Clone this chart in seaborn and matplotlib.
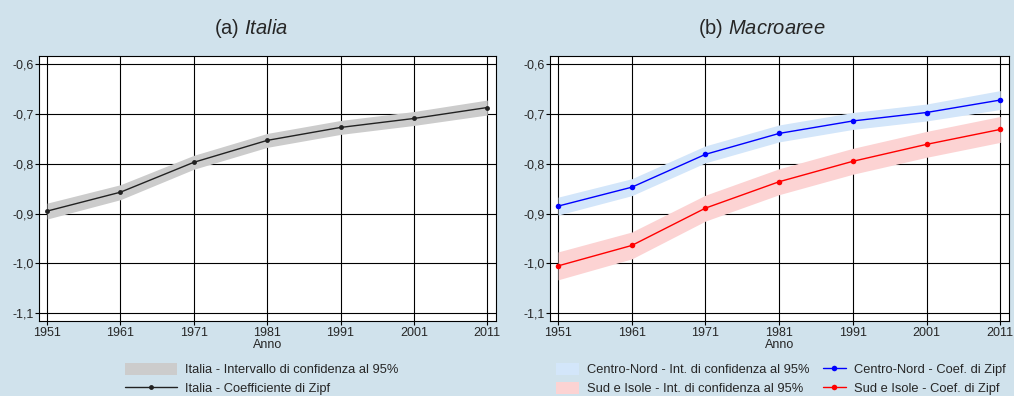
import numpy as np
import pandas as pd
import seaborn as sns
import matplotlib.pyplot as plt
from matplotlib.patches import Patch
from matplotlib.lines import Line2D

anni = [1951, 1961, 1971, 1981, 1991, 2001, 2011]

italia_coef = [-0.895, -0.857, -0.797, -0.753, -0.727, -0.709, -0.687]
italia_lo = [-0.911, -0.872, -0.811, -0.767, -0.741, -0.723, -0.702]
italia_hi = [-0.879, -0.842, -0.783, -0.739, -0.713, -0.695, -0.672]

cn_coef = [-0.885, -0.847, -0.781, -0.739, -0.714, -0.697, -0.672]
cn_lo = [-0.903, -0.864, -0.798, -0.756, -0.731, -0.714, -0.691]
cn_hi = [-0.867, -0.830, -0.764, -0.722, -0.697, -0.680, -0.653]

sud_coef = [-1.005, -0.964, -0.889, -0.836, -0.795, -0.761, -0.731]
sud_lo = [-1.033, -0.991, -0.915, -0.862, -0.821, -0.787, -0.757]
sud_hi = [-0.977, -0.937, -0.863, -0.810, -0.769, -0.735, -0.705]

yticks = [-1.1, -1.0, -0.9, -0.8, -0.7, -0.6]
ytick_labels = ["-1,1", "-1,0", "-0,9", "-0,8", "-0,7", "-0,6"]

sns.set_style("white")
plt.rcParams['font.family'] = ['Liberation Sans', 'DejaVu Sans']
plt.rcParams['mathtext.fontset'] = 'custom'
plt.rcParams['mathtext.rm'] = 'Liberation Sans'
plt.rcParams['mathtext.it'] = 'Liberation Sans:italic'

bg = '#D0E2EC'
fig = plt.figure(figsize=(10.14, 3.96), dpi=100, facecolor=bg)
ax1 = fig.add_axes([0.0385, 0.189, 0.4507, 0.669])
ax2 = fig.add_axes([0.5424, 0.189, 0.4527, 0.669])

df_it = pd.DataFrame({'Anno': anni, 'coef': italia_coef})
df_cn = pd.DataFrame({'Anno': anni, 'coef': cn_coef})
df_sud = pd.DataFrame({'Anno': anni, 'coef': sud_coef})

ax1.fill_between(anni, italia_lo, italia_hi, color='#CCCCCC', lw=0, zorder=2)
sns.lineplot(data=df_it, x='Anno', y='coef', ax=ax1, color='#222222', lw=1,
             marker='o', markersize=3.5, markeredgewidth=0, zorder=3)

ax2.fill_between(anni, cn_lo, cn_hi, color='#D3E6FA', lw=0, zorder=2)
ax2.fill_between(anni, sud_lo, sud_hi, color='#FCD3D3', lw=0, zorder=2)
sns.lineplot(data=df_cn, x='Anno', y='coef', ax=ax2, color='#0000FF', lw=1,
             marker='o', markersize=4, markeredgewidth=0, zorder=3)
sns.lineplot(data=df_sud, x='Anno', y='coef', ax=ax2, color='#FF0000', lw=1,
             marker='o', markersize=4, markeredgewidth=0, zorder=3)

for ax in (ax1, ax2):
    ax.set_facecolor('white')
    ax.set_xlim(1949.9, 2012.2)
    ax.set_ylim(-1.116, -0.584)
    ax.set_xticks(anni)
    ax.set_xticklabels([str(a) for a in anni])
    ax.set_yticks(yticks)
    ax.set_yticklabels(ytick_labels)
    ax.grid(True, color='black', lw=0.8, zorder=1)
    ax.set_axisbelow(True)
    ax.tick_params(axis='both', labelsize=9, length=3, width=0.8, pad=1,
                   direction='out', color='black', left=True, bottom=True)
    ax.set_xlabel('Anno', fontsize=9, labelpad=0)
    ax.set_ylabel('')
    for s in ax.spines.values():
        s.set_color('black')
        s.set_linewidth(0.8)

fig.text(0.2475, 0.928, r'(a) $\mathit{Italia}$', ha='center', va='center', fontsize=14.5)
fig.text(0.7515, 0.928, r'(b) $\mathit{Macroaree}$', ha='center', va='center', fontsize=14.5)

h1 = [Patch(facecolor='#CCCCCC', edgecolor='none'),
      Line2D([0], [0], color='#222222', lw=1, marker='o', markersize=3.5, markeredgewidth=0)]
fig.legend(h1, ['Italia - Intervallo di confidenza al 95%', 'Italia - Coefficiente di Zipf'],
           loc='upper center', bbox_to_anchor=(0.258, 0.1), frameon=False, fontsize=9.3,
           handlelength=4, handleheight=1.1, labelspacing=0.4, borderpad=0, handletextpad=0.6)

h2 = [Patch(facecolor='#D3E6FA', edgecolor='none'),
      Patch(facecolor='#FCD3D3', edgecolor='none'),
      Line2D([0], [0], color='#0000FF', lw=1, marker='o', markersize=4, markeredgewidth=0),
      Line2D([0], [0], color='#FF0000', lw=1, marker='o', markersize=4, markeredgewidth=0)]
fig.legend(h2, ['Centro-Nord - Int. di confidenza al 95%', 'Sud e Isole - Int. di confidenza al 95%',
                'Centro-Nord - Coef. di Zipf', 'Sud e Isole - Coef. di Zipf'],
           loc='upper center', bbox_to_anchor=(0.77, 0.1), frameon=False, fontsize=9.3, ncol=2,
           handlelength=1.8, handleheight=1.1, labelspacing=0.4, borderpad=0, handletextpad=0.6,
           columnspacing=1.0)

fig.savefig('out.png', dpi=100, facecolor=bg)
